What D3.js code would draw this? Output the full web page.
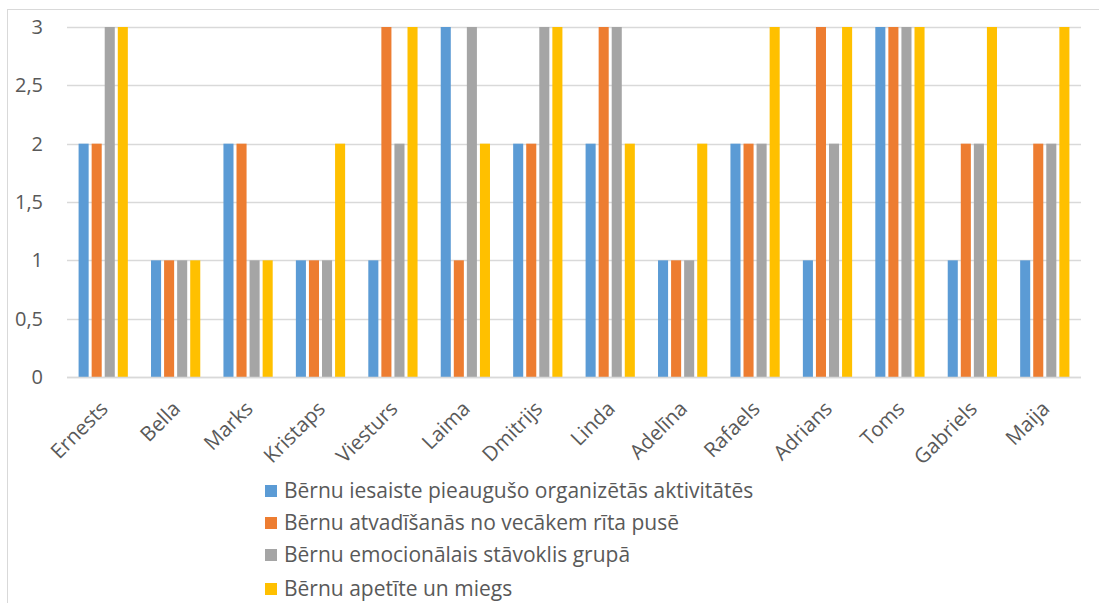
<!DOCTYPE html>
<html>
<head>
<meta charset="utf-8">
<script src="https://cdn.jsdelivr.net/npm/d3@7"></script>
<style>
  body { margin: 0; background: #fff; }
  text { font-family: "Open Sans", Lato, sans-serif; fill: #595959; }
</style>
</head>
<body>
<div id="chart"></div>
<script>
const categories = ["Ernests", "Bella", "Marks", "Kristaps", "Viesturs", "Laima", "Dmitrijs",
  "Linda", "Adelīna", "Rafaels", "Adrians", "Toms", "Gabriels", "Maija"];

const seriesNames = [
  "Bērnu iesaiste pieaugušo organizētās aktivitātēs",
  "Bērnu atvadīšanās no vecākem rīta pusē",
  "Bērnu emocionālais stāvoklis grupā",
  "Bērnu apetīte un miegs"
];

const iesaiste = [2, 1, 2, 1, 1, 3, 2, 2, 1, 2, 1, 3, 1, 1];
const atvadisanas = [2, 1, 2, 1, 3, 1, 2, 3, 1, 2, 3, 3, 2, 2];
const emocionalais = [3, 1, 1, 1, 2, 3, 3, 3, 1, 2, 2, 3, 2, 2];
const apetite = [3, 1, 1, 2, 3, 2, 3, 2, 2, 3, 3, 3, 3, 3];

const yTicks = [0, 0.5, 1, 1.5, 2, 2.5, 3];
const colors = ["#5B9BD5", "#ED7D31", "#A5A5A5", "#FFC000"];

const allSeries = [iesaiste, atvadisanas, emocionalais, apetite];

const width = 1099, height = 603;
const plot = { left: 67, right: 1081, top: 27, bottom: 377 };

const svg = d3.select("#chart").append("svg")
  .attr("width", width)
  .attr("height", height);

// chart frame
svg.append("rect")
  .attr("x", 7.5).attr("y", 9.5)
  .attr("width", 1200).attr("height", 700)
  .attr("fill", "none")
  .attr("stroke", "#D9D9D9");

const x = d3.scaleBand()
  .domain(categories)
  .range([plot.left, plot.right])
  .paddingInner(0.32)
  .paddingOuter(0.16);

const xSub = d3.scaleBand()
  .domain(d3.range(seriesNames.length))
  .range([0, x.bandwidth()])
  .paddingInner(0.23);

const y = d3.scaleLinear()
  .domain([0, 3])
  .range([plot.bottom, plot.top]);

// gridlines
svg.append("g")
  .selectAll("line")
  .data(yTicks)
  .enter()
  .append("line")
  .attr("x1", plot.left).attr("x2", plot.right)
  .attr("y1", d => Math.round(y(d)) + 0.5)
  .attr("y2", d => Math.round(y(d)) + 0.5)
  .attr("stroke", "#D9D9D9")
  .attr("stroke-width", 1.3);

// y axis labels
const fmt = d => String(d).replace(".", ",");
const yAxis = svg.append("g")
  .attr("transform", "translate(" + plot.left + ",0)")
  .call(d3.axisLeft(y).tickValues(yTicks).tickFormat(fmt).tickSize(0).tickPadding(24));
yAxis.select(".domain").remove();
yAxis.selectAll("text")
  .style("font-size", "20px")
  .style("font-family", "'Open Sans', Lato, sans-serif")
  .attr("fill", "#595959");

// bars
const groups = svg.append("g")
  .selectAll("g")
  .data(categories)
  .enter()
  .append("g")
  .attr("transform", d => "translate(" + x(d) + ",0)");

groups.selectAll("rect")
  .data((d, i) => allSeries.map((s, k) => ({ k: k, v: s[i] })))
  .enter()
  .append("rect")
  .attr("x", d => xSub(d.k))
  .attr("y", d => y(d.v))
  .attr("width", xSub.bandwidth())
  .attr("height", d => y(0) - y(d.v))
  .attr("fill", d => colors[d.k]);

// x axis line
svg.append("line")
  .attr("x1", plot.left).attr("x2", plot.right)
  .attr("y1", plot.bottom + 0.5).attr("y2", plot.bottom + 0.5)
  .attr("stroke", "#D9D9D9")
  .attr("stroke-width", 1.5);

// x axis labels
const xAxis = svg.append("g")
  .attr("transform", "translate(0," + plot.bottom + ")")
  .call(d3.axisBottom(x).tickSize(0).tickPadding(0));
xAxis.select(".domain").remove();
xAxis.selectAll("text")
  .attr("y", 0)
  .attr("dy", 0)
  .attr("transform", "translate(6,33)rotate(-45)")
  .style("text-anchor", "end")
  .style("font-size", "20.5px")
  .style("font-family", "'Open Sans', Lato, sans-serif")
  .attr("fill", "#595959");

// legend
const legend = svg.append("g")
  .selectAll("g")
  .data(seriesNames)
  .enter()
  .append("g")
  .attr("transform", (d, i) => "translate(265," + [491, 523, 555, 589][i] + ")");

legend.append("rect")
  .attr("x", 0).attr("y", -6)
  .attr("width", 12).attr("height", 12)
  .attr("fill", (d, i) => colors[i]);

legend.append("text")
  .attr("x", 19)
  .attr("dy", "0.35em")
  .style("font-size", "21px")
  .text(d => d);
</script>
</body>
</html>
